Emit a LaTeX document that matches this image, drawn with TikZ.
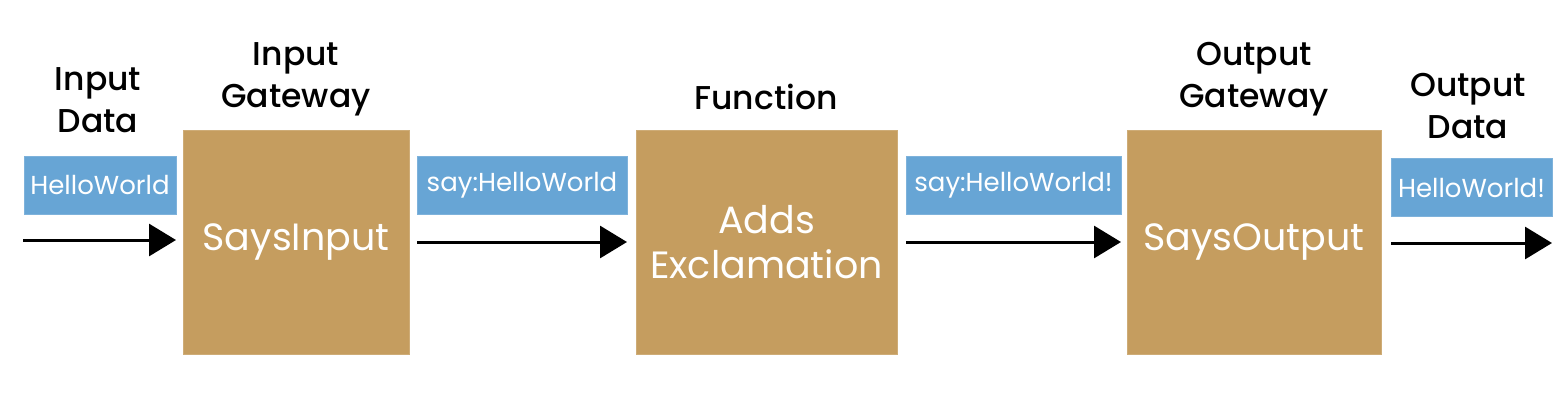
\documentclass[tikz,border=0pt]{standalone}
\usepackage{fontspec}
\setmainfont{Poppins}
\newfontfamily\titlefont{Poppins Medium}
\usetikzlibrary{arrows.meta}
\definecolor{tan}{RGB}{197,157,95}
\definecolor{lblue}{RGB}{103,165,213}
\tikzset{
  stage/.style={rectangle, fill=tan, draw=tan!85!white, line width=0.8pt, text=white, align=center, inner sep=0pt,
    minimum height=224pt, font=\fontsize{38}{45}\selectfont},
  msg/.style={rectangle, fill=lblue, draw=lblue!85!white, line width=0.8pt, text=white, inner sep=0pt,
    minimum height=58pt, font=\fontsize{26}{30}\selectfont},
  title/.style={align=center, text=black, inner sep=0pt, font=\titlefont\fontsize{33}{42}\selectfont},
  flow/.style={line width=3pt, -{Triangle[length=27pt,width=32pt]}}
}
\begin{document}
\begin{tikzpicture}[x=1pt,y=-1pt]
\useasboundingbox (0,0) rectangle (1568,400);
% stages
\node[stage, minimum width=226pt] (gin) at (296,242) {SaysInput};
\node[stage, minimum width=261pt] (fn) at (766.5,242) {Adds\\Exclamation};
\node[stage, minimum width=254pt] (gout) at (1254,242) {SaysOutput};
% messages
\node[msg, minimum width=152pt] (m1) at (100,185) {HelloWorld};
\node[msg, minimum width=210pt] (m2) at (522,185) {say:HelloWorld};
\node[msg, minimum width=215pt] (m3) at (1013.5,185) {say:HelloWorld!};
\node[msg, minimum width=161pt] (m4) at (1471.5,187.5) {HelloWorld!};
% titles
\node[title] (t1) at (98,100) {Input\\Data};
\node[title] (t2) at (296,79) {Input\\Gateway};
\node[title] (t3) at (766,97) {Function};
\node[title] (t4) at (1254,79) {Output\\Gateway};
\node[title] (t5) at (1468,106) {Output\\Data};
% arrows
\coordinate (a1s) at (23,240);
\coordinate (a1e) at (176,240);
\coordinate (a2s) at (417,242);
\coordinate (a2e) at (627,242);
\coordinate (a3s) at (906,242);
\coordinate (a3e) at (1121,242);
\coordinate (a4s) at (1391,243);
\coordinate (a4e) at (1552,243);
\draw[flow] (a1s) -- (a1e);
\draw[flow] (a2s) -- (a2e);
\draw[flow] (a3s) -- (a3e);
\draw[flow] (a4s) -- (a4e);
\end{tikzpicture}
\end{document}
